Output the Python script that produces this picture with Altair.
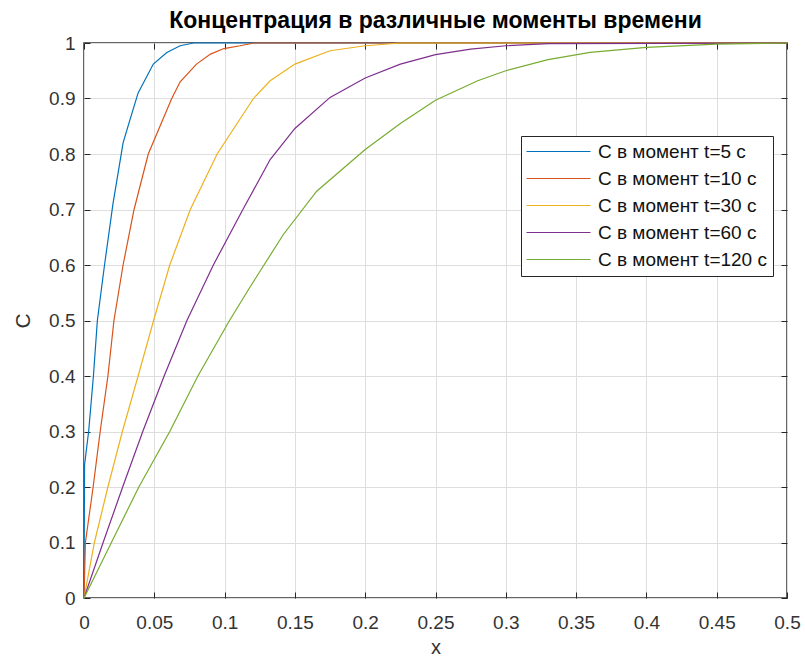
import altair as alt
import pandas as pd

TITLE = "Концентрация в различные моменты времени"
SERIES = ["C в момент t=5 с", "C в момент t=10 с", "C в момент t=30 с",
          "C в момент t=60 с", "C в момент t=120 с"]
COLORS = ["#0072BD", "#D95319", "#EDB120", "#7E2F8E", "#77AC30"]

X_TICKS = [0, 0.05, 0.1, 0.15, 0.2, 0.25, 0.3, 0.35, 0.4, 0.45, 0.5]
Y_TICKS = [0, 0.1, 0.2, 0.3, 0.4, 0.5, 0.6, 0.7, 0.8, 0.9, 1]

x5 = [0, 0.0004, 0.0033, 0.0067, 0.0095, 0.0146, 0.0206, 0.0278, 0.0325, 0.0385,
      0.0493, 0.0589, 0.0684, 0.078, 0.5]
c5 = [0, 0.24, 0.30, 0.40, 0.50, 0.60, 0.71, 0.82, 0.86, 0.91,
      0.962, 0.983, 0.995, 1.0, 1.0]

x10 = [0, 0.001, 0.0065, 0.0115, 0.017, 0.0213, 0.0278, 0.0356, 0.0457, 0.0624,
       0.0684, 0.080, 0.090, 0.0995, 0.111, 0.121, 0.5]
c10 = [0, 0.10, 0.20, 0.30, 0.40, 0.50, 0.60, 0.70, 0.80, 0.90,
       0.93, 0.962, 0.98, 0.99, 0.995, 1.0, 1.0]

x30 = [0, 0.0074, 0.017, 0.0273, 0.0385, 0.0495, 0.061, 0.0756, 0.0947, 0.1205,
       0.1324, 0.15, 0.175, 0.2, 0.225, 0.5]
c30 = [0, 0.10, 0.20, 0.30, 0.40, 0.50, 0.60, 0.70, 0.80, 0.90,
       0.932, 0.962, 0.986, 0.995, 1.0, 1.0]

x60 = [0, 0.0136, 0.0275, 0.0418, 0.057, 0.0732, 0.092, 0.113, 0.1324, 0.15,
       0.175, 0.2, 0.225, 0.25, 0.275, 0.3, 0.33, 0.5]
c60 = [0, 0.10, 0.20, 0.30, 0.40, 0.50, 0.60, 0.70, 0.79, 0.846,
       0.902, 0.937, 0.962, 0.979, 0.989, 0.995, 0.999, 1.0]

x120 = [0, 0.0195, 0.039, 0.061, 0.081, 0.1035, 0.118, 0.1418, 0.1655, 0.2,
        0.225, 0.25, 0.28, 0.3, 0.33, 0.36, 0.4, 0.45, 0.5]
c120 = [0, 0.10, 0.20, 0.30, 0.40, 0.50, 0.56, 0.655, 0.733, 0.808,
        0.855, 0.897, 0.932, 0.95, 0.97, 0.983, 0.992, 0.998, 1.0]

rows = []
for name, xs, cs in zip(SERIES, [x5, x10, x30, x60, x120], [c5, c10, c30, c60, c120]):
    for i, (xv, cv) in enumerate(zip(xs, cs)):
        rows.append({"series": name, "x": xv, "C": cv, "i": i})
df = pd.DataFrame(rows)

FONT = "Liberation Sans"
AX = "#262626"
sx = alt.Scale(domain=[0, 0.5], nice=False, zero=False)
sy = alt.Scale(domain=[0, 1], nice=False, zero=False)

main = alt.Chart(df).mark_line(strokeWidth=1.2).encode(
    x=alt.X("x:Q", scale=sx, axis=alt.Axis(
        orient="bottom", values=X_TICKS, format="~g", title="x", grid=True,
        gridColor="#DEDEDE", ticks=False, domain=False, labelFontSize=19,
        labelFont=FONT, labelColor="#333333", labelPadding=15,
        titleFontSize=20, titleFont=FONT, titleFontWeight="normal", titleColor="#333333",
        titleBaseline="alphabetic", titleY=55, labelFlush=False)),
    y=alt.Y("C:Q", scale=sy, axis=alt.Axis(
        orient="left", values=Y_TICKS, format="~g", title="C", grid=True,
        gridColor="#DEDEDE", ticks=False, domain=False, labelFontSize=19,
        labelFont=FONT, labelColor="#333333", labelPadding=9,
        titleFontSize=21, titleFont=FONT, titleFontWeight="normal", titleColor="#333333",
        titleBaseline="alphabetic", titleX=-55, labelFlush=False)),
    color=alt.Color("series:N", scale=alt.Scale(domain=SERIES, range=COLORS),
                    legend=alt.Legend(
                        title=None, orient="none", legendX=437, legendY=93,
                        symbolType="M-8,0H8", symbolSize=64, symbolStrokeWidth=1.2,
                        symbolOffset=22,
                        labelFontSize=19, labelFont=FONT, labelColor="#111111",
                        labelOffset=30, labelLimit=0, padding=6, rowPadding=7,
                        fillColor="white", strokeColor=AX)),
    order="i:Q",
)


def tick_layer(xo, yo):
    return alt.Chart(df).mark_point(opacity=0).encode(
        x=alt.X("x:Q", scale=sx, axis=alt.Axis(
            orient=xo, values=X_TICKS, labels=False, grid=False, domain=False,
            ticks=True, tickSize=6, offset=-6, tickColor=AX, title=None)),
        y=alt.Y("C:Q", scale=sy, axis=alt.Axis(
            orient=yo, values=Y_TICKS, labels=False, grid=False, domain=False,
            ticks=True, tickSize=6, offset=-6, tickColor=AX, title=None)),
    )


chart = alt.layer(main, tick_layer("bottom", "left"), tick_layer("top", "right")).resolve_axis(
    x="independent", y="independent"
).properties(
    width=703, height=555,
    autosize=alt.AutoSizeParams(type="none"),
    padding={"left": 84, "top": 43, "right": 18, "bottom": 68},
    title=alt.TitleParams(TITLE, fontSize=23, fontWeight="bold", font=FONT, color="black",
                          anchor="middle", offset=1),
    background="white",
).configure_view(stroke="#333333", strokeWidth=1.5)

chart.save("out.html", embed_options={"renderer": "svg", "actions": False})
